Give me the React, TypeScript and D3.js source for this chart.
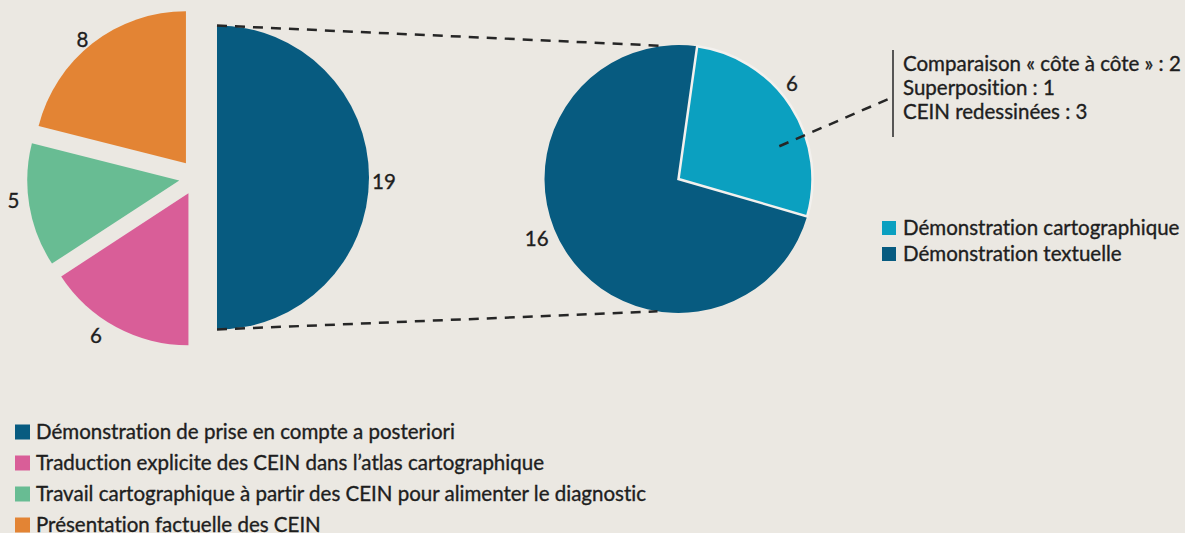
import * as d3 from 'd3';
import React, { useEffect } from 'react';

const mainCategories = [
  'Démonstration de prise en compte a posteriori',
  'Traduction explicite des CEIN dans l’atlas cartographique',
  'Travail cartographique à partir des CEIN pour alimenter le diagnostic',
  'Présentation factuelle des CEIN',
];
const mainValues = [19, 6, 5, 8];
const mainColors = ['#075b80', '#d95e98', '#68bc93', '#e38434'];

const detailCategories = ['Démonstration cartographique', 'Démonstration textuelle'];
const detailValues = [6, 16];
const detailColors = ['#0ba0c0', '#075b80'];

const mapLines = ['Comparaison « côte à côte » : 2', 'Superposition : 1', 'CEIN redessinées : 3'];

const W = 1185;
const H = 533;
const BG = '#ebe8e2';
const FONT = 'Lato, "Noto Sans", sans-serif';
const FS = '20.5px';
const INK = '#1e1e1e';

export default function App() {
  const ref = React.useRef<SVGSVGElement>(null);

  useEffect(() => {
    if (!ref.current) return;
    const svg = d3.select(ref.current);
    svg.selectAll('*').remove();

    svg.append('rect').attr('width', W).attr('height', H).attr('fill', BG);

    const styleText = (sel: d3.Selection<SVGTextElement, any, any, any>) =>
      sel
        .style('font-family', FONT)
        .style('font-size', FS)
        .style('font-variant-ligatures', 'none')
        .style('font-feature-settings', '"liga" 0, "dlig" 0')
        .attr('fill', INK)
        .attr('stroke', INK)
        .attr('stroke-width', 0.35);

    // left pie: first slice kept in place, the others pulled out to the left
    const lc = { x: 217, y: 177.5 };
    const lr = 152;
    const mainArcs = d3.pie<number>().sort(null).value(d => d)(mainValues);
    const arc = d3.arc<d3.PieArcDatum<number>>().innerRadius(0).outerRadius(lr);
    const shift = (d: d3.PieArcDatum<number>, i: number) => {
      if (i === 0) return [0, 0];
      const mid = (d.startAngle + d.endAngle) / 2;
      return [-20 + 18 * Math.sin(mid), -18 * Math.cos(mid)];
    };

    const left = svg.append('g').attr('transform', `translate(${lc.x},${lc.y})`);
    left
      .selectAll('path')
      .data(mainArcs)
      .enter()
      .append('path')
      .attr('transform', (d, i) => `translate(${shift(d, i)})`)
      .attr('d', arc)
      .attr('fill', (d, i) => mainColors[i]);

    // value labels just outside each slice
    const labelDeg = [91.5, 213, 263, 320];
    const labelR = [167, 170, 167, 161];
    const lx = (d: d3.PieArcDatum<number>, i: number) =>
      shift(d, i)[0] + labelR[i] * Math.sin((labelDeg[i] * Math.PI) / 180);
    const ly = (d: d3.PieArcDatum<number>, i: number) =>
      shift(d, i)[1] - labelR[i] * Math.cos((labelDeg[i] * Math.PI) / 180);
    left
      .selectAll('text')
      .data(mainArcs)
      .enter()
      .append('text')
      .attr('x', lx)
      .attr('y', ly)
      .attr('dy', '0.35em')
      .attr('text-anchor', 'middle')
      .call(styleText)
      .text(d => d.data);

    // right pie: breakdown of the first slice
    const rc = { x: 678.5, y: 179 };
    const rr = 134;
    const rot = (8 * Math.PI) / 180;
    const detailArcs = d3
      .pie<number>()
      .sort(null)
      .value(d => d)
      .startAngle(rot)
      .endAngle(rot + 2 * Math.PI)(detailValues);
    const arc2 = d3.arc<d3.PieArcDatum<number>>().innerRadius(0).outerRadius(rr);
    const right = svg.append('g').attr('transform', `translate(${rc.x},${rc.y})`);
    right
      .selectAll('path')
      .data(detailArcs.slice().reverse())
      .enter()
      .append('path')
      .attr('d', arc2)
      .attr('fill', d => detailColors[d.index])
      .attr('stroke', d => (d.index === 0 ? '#f3f1ee' : 'none'))
      .attr('stroke-width', 2.5);

    const labelAngles = [50, 247].map(a => (a * Math.PI) / 180);
    right
      .selectAll('text')
      .data(detailArcs)
      .enter()
      .append('text')
      .attr('x', (d, i) => (i === 0 ? 148 : 154) * Math.sin(labelAngles[i]))
      .attr('y', (d, i) => -(i === 0 ? 148 : 154) * Math.cos(labelAngles[i]))
      .attr('dy', '0.35em')
      .attr('text-anchor', 'middle')
      .call(styleText)
      .text(d => d.data);

    // dashed connectors between the two pies
    const onRight = (deg: number) => {
      const a = (deg * Math.PI) / 180;
      return [rc.x + rr * Math.sin(a), rc.y - rr * Math.cos(a)];
    };
    const connectors = [
      [[lc.x, lc.y - lr], onRight(-6.5)],
      [[lc.x, lc.y + lr], onRight(189)],
    ];
    svg
      .selectAll('line.conn')
      .data(connectors)
      .enter()
      .append('line')
      .attr('class', 'conn')
      .attr('x1', d => d[0][0])
      .attr('y1', d => d[0][1])
      .attr('x2', d => d[1][0])
      .attr('y2', d => d[1][1])
      .attr('stroke', '#262626')
      .attr('stroke-width', 2.5)
      .attr('stroke-dasharray', '10,8');

    // callout for the map-based slice
    const ca = (72 * Math.PI) / 180;
    const bx = 893;
    svg
      .append('line')
      .attr('x1', rc.x + 106 * Math.sin(ca))
      .attr('y1', rc.y - 106 * Math.cos(ca))
      .attr('x2', bx)
      .attr('y2', 97)
      .attr('stroke', '#262626')
      .attr('stroke-width', 2.5)
      .attr('stroke-dasharray', '10,8');
    svg
      .append('line')
      .attr('x1', bx)
      .attr('x2', bx)
      .attr('y1', 50)
      .attr('y2', 137)
      .attr('stroke', '#262626')
      .attr('stroke-width', 1.5);
    svg
      .selectAll('text.map')
      .data(mapLines)
      .enter()
      .append('text')
      .attr('class', 'map')
      .attr('x', bx + 10)
      .attr('y', (d, i) => 71 + i * 24)
      .call(styleText)
      .text(d => d);

    // legends
    const legend = (
      items: string[],
      colors: string[],
      x: number,
      y: number,
      step: number,
      size: number
    ) => {
      const g = svg
        .append('g')
        .selectAll('g')
        .data(items)
        .enter()
        .append('g')
        .attr('transform', (d, i) => `translate(${x},${y + i * step})`);
      g.append('rect')
        .attr('y', -size / 2)
        .attr('width', size)
        .attr('height', size)
        .attr('fill', (d, i) => colors[i]);
      g.append('text')
        .attr('x', 21)
        .attr('dy', '0.35em')
        .call(styleText)
        .text(d => d);
    };
    legend(detailCategories, detailColors, 882, 228, 26, 14);
    legend(mainCategories, mainColors, 15, 432, 31, 15);
  }, []);

  return (
    <svg
      ref={ref}
      width={W}
      height={H}
      style={{ position: 'absolute', left: 0, top: 0, display: 'block' }}
    />
  );
}
